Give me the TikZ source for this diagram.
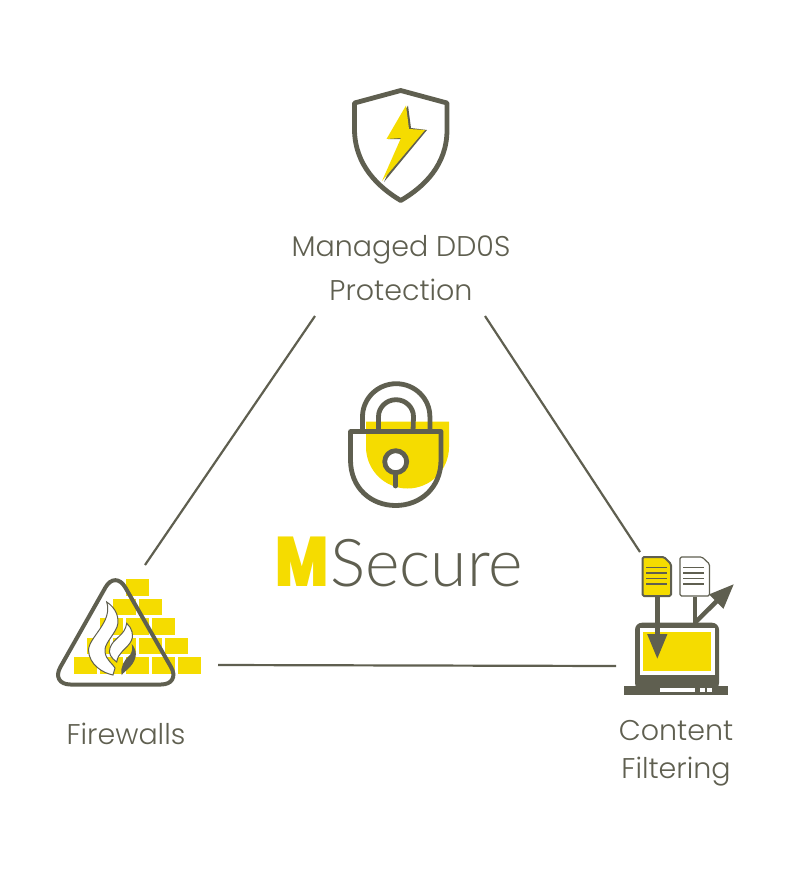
\documentclass[tikz,border=0pt]{standalone}
\usepackage{fontspec}
\setmainfont{Poppins Light}
\newfontfamily\lightfont{Lato Light}
\newfontfamily\blackfont{Poppins Black}
\usepackage{xcolor}
\usetikzlibrary{arrows.meta}
\definecolor{mgrey}{HTML}{5F5F50}
\definecolor{myellow}{HTML}{F5DC00}

\begin{document}
\begin{tikzpicture}[x=1pt,y=-1pt,
  label/.style={text=mgrey, align=center, font=\fontsize{28.5}{38}\selectfont},
  link/.style={draw=mgrey, line width=2.2pt},
  icon/.style={draw=mgrey, line width=4.8pt, line join=round},
  brick/.style={fill=myellow, draw=none},
  docline/.style={draw=mgrey, line width=1.6pt},
  docarrow/.style={draw=mgrey, line width=4.5pt, -{Triangle[length=25pt,width=19pt]}}]
  \useasboundingbox (0,0) rectangle (800,873);

  % labels
  \node[label] (ddos) at (401,268) {Managed DD0S\\[6pt]Protection};
  \node[label] (firewalls) at (126,734) {Firewalls};
  \node[label] (filtering) at (676,753.5) {Content\\Filtering};

  % triangle
  \coordinate (ddosl) at (315,316);
  \coordinate (ddosr) at (485,316);
  \coordinate (wallt) at (145,565);
  \coordinate (wallr) at (218,665);
  \coordinate (laptopt) at (640,552);
  \coordinate (laptopl) at (616,666);
  \draw[link] (ddosl) -- (wallt);
  \draw[link] (ddosr) -- (laptopt);
  \draw[link] (wallr) -- (laptopl);

  % shield
  \draw[icon, fill=white] (400.7,90.5) -- (354.5,103)
    -- (354.5,130) .. controls (355,165) and (378,187) .. (400.7,200.5)
    .. controls (424,187) and (447,165) .. (447,130) -- (447,103) -- cycle;
  \fill[mgrey] (408,105.5) -- (411,128) -- (427,130) -- (384,182) -- (403,139) -- (388,139) -- cycle;
  \fill[myellow] (406,105.5) -- (409,129) -- (425,130) -- (382,181) -- (401,138) -- (386.5,139) -- cycle;

  % lock
  \fill[myellow] (366,421.7) -- (449,421.7) -- (449,447) arc[start angle=0, end angle=180, radius=41.5] -- cycle;
  \draw[icon] (362.5,431) -- (362.5,416.7) arc[start angle=180, end angle=360, x radius=33.7, y radius=33] -- (430,431);
  \draw[icon] (378.5,431) -- (378.5,416.7) arc[start angle=180, end angle=360, x radius=17.5, y radius=17] -- (413,431);
  \draw[icon] (350.5,431.5) -- (441,431.5) -- (441,460)
    .. controls (441,488) and (420,505.5) .. (395.7,505.5)
    .. controls (371,505.5) and (350.5,488) .. (350.5,460) -- cycle;
  \draw[icon, line cap=round] (395.7,472) -- (395.7,486);
  \draw[icon, fill=white] (395.7,461.7) circle[radius=11];

  % brand
  \node[anchor=base west, text=myellow, inner sep=0pt, xscale=.8, transform shape, font=\fontsize{70}{70}\blackfont] (brandm) at (275,586) {M};
  \node[anchor=base west, text=mgrey, inner sep=0pt, font=\fontsize{66}{66}\lightfont] (brands) at (330,586) {Secure};

  % firewall
  \foreach \row [evaluate=\row as \ypos using {579+19.6*(\row-1)},
                 evaluate=\row as \xpos using {125.7-13*(\row-1)}] in {1,...,5} {
    \foreach \col in {1,...,\row} {
      \fill[brick] ({\xpos+26*(\col-1)},\ypos) rectangle ++(23.7,16.6);
    }
  }
  \draw[draw=mgrey, line width=4pt, rounded corners=20pt] (115.3,570) -- (50.5,684.5) -- (181,684.5) -- cycle;
  \draw[draw=mgrey, line width=1pt, fill=white] (106.7,602)
    .. controls (116,608) and (120,618) .. (117,627)
    .. controls (112,638) and (104,644) .. (105,652)
    .. controls (106,660) and (113,664) .. (115,668)
    -- (113,675)
    .. controls (103,673) and (89,665) .. (88.5,650)
    .. controls (89,637) and (113,622) .. cycle;
  \draw[draw=mgrey, line width=1pt, fill=white] (126.7,623.3)
    .. controls (132,628) and (135,636) .. (130,643)
    .. controls (125,650) and (118,653) .. (116.7,662)
    .. controls (111,658) and (108,653) .. (110,648)
    .. controls (113,638) and (125,636) .. cycle;
  \fill[mgrey] (131.7,644) .. controls (137,650) and (138,658) .. (130,667)
    .. controls (126,671) and (123,673) .. (121.7,675)
    .. controls (120,667) and (124,660) .. (130,655)
    .. controls (132,652) and (133,648) .. cycle;

  % laptop
  \fill[mgrey, rounded corners=7pt] (635,622.7) -- (719,622.7) -- (719,690) -- (635,690) -- cycle;
  \fill[mgrey] (624.3,685.7) rectangle (727.7,695.3);
  \fill[white] (640,628) rectangle (715,675);
  \fill[myellow] (642.7,631.7) rectangle (711,671);
  \fill[white] (660,687.7) rectangle (695,692.3);
  \fill[white] (700,687.7) rectangle (705,692.3);
  \fill[white] (706.7,687.7) rectangle (711.7,692.3);
  \coordinate (screen) at (657.3,659);
  \coordinate (screens) at (695,622.7);
  \coordinate (outarrow) at (734,584);

  % documents
  \coordinate (doca) at (657.3,596.7);
  \coordinate (docb) at (695,596.7);
  \draw[draw=mgrey, line width=2pt, line join=round, fill=myellow, rounded corners=1.5pt] (642.5,557) -- (664,557) -- (671,564) -- (671,596) -- (642.5,596) -- cycle;
  \draw[draw=mgrey, line width=1.2pt, line join=round, fill=white, rounded corners=1.5pt] (680,557) -- (702,557) -- (709.5,564) -- (709.5,596) -- (680,596) -- cycle;
  \foreach \ypos in {567.3,572.7,578.3,583.7} {
    \draw[docline] (646,\ypos) -- (666.7,\ypos);
    \draw[docline] (683.3,\ypos) -- (704.3,\ypos);
  }
  \draw[docarrow] (doca) -- (screen);
  \draw[draw=mgrey, line width=4.5pt] (docb) -- (screens);
  \draw[docarrow] (screens) -- (outarrow);
\end{tikzpicture}
\end{document}
